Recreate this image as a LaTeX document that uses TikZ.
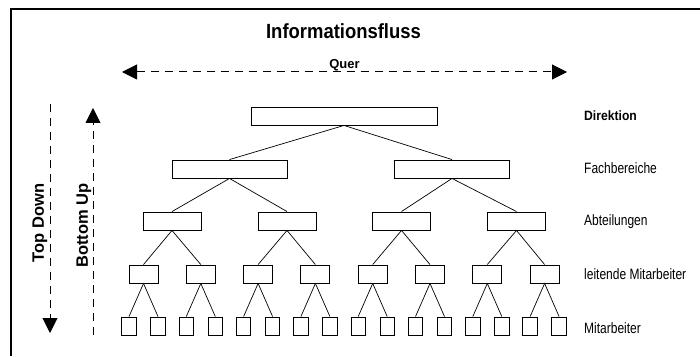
\documentclass[tikz,border=0pt]{standalone}
\usepackage{fontspec}
\setmainfont{Liberation Sans}
\newfontfamily\schmal{Liberation Sans}[FakeStretch=0.8]
\newfontfamily\schmalfett{Liberation Sans Bold}[FakeStretch=0.9]
\usetikzlibrary{arrows.meta}
\tikzset{
  orgbox/.style={draw, line width=0.9pt, inner sep=0pt, minimum height=18pt},
  kante/.style={line width=0.7pt},
  flow/.style={line width=1pt, dash pattern=on 8pt off 6pt},
  tip/.style={-{Triangle[length=15pt,width=15pt]}},
  ebene/.style={anchor=base west, inner sep=0pt, font=\schmal\fontsize{15}{17}\selectfont}
}
\begin{document}
\begin{tikzpicture}[x=1pt,y=1pt]
                        \useasboundingbox (0,0) rectangle (700,356);
                        \draw[line width=1.2pt] (11,0) -- (11,347) -- (700,347);
                        \node[anchor=base, font=\schmalfett\fontsize{20.5}{22}\selectfont] (titel) at (343.5,317) {Informationsfluss};

                        % Hierarchie
                        \node[orgbox, minimum width=186pt] (dir) at (344,240) {};
                        \node[orgbox, minimum width=115pt] (fb1) at (229.5,187) {};
                        \node[orgbox, minimum width=115pt] (fb2) at (452,187) {};
                        \foreach \i/\x in {1/172,2/287,3/401.5,4/516.5}
                            \node[orgbox, minimum width=58pt] (ab\i) at (\x,135) {};
                        \foreach \i in {1,...,8} {
                            \node[orgbox, minimum width=29pt] (le\i) at ({143.5+57.3*(\i-1)},82) {};
                            \node[orgbox, minimum width=14.5pt] (maA\i) at ({129+57.3*(\i-1)},30) {};
                            \node[orgbox, minimum width=14.5pt] (maB\i) at ({158+57.3*(\i-1)},30) {};
                        }
                        \draw[kante] (dir.south) -- (fb1.north);
                        \draw[kante] (dir.south) -- (fb2.north);
                        \foreach \a/\b in {fb1/ab1,fb1/ab2,fb2/ab3,fb2/ab4}
                            \draw[kante] (\a.south) -- (\b.north);
                        \foreach \i in {1,...,8} {
                            \pgfmathtruncatemacro\p{(\i+1)/2}
                            \draw[kante] (ab\p.south) -- (le\i.north);
                            \draw[kante] (le\i.south) -- (maA\i.north);
                            \draw[kante] (le\i.south) -- (maB\i.north);
                        }

                        % Richtungen
                        \coordinate (querL) at (122,284);
                        \coordinate (querR) at (567,284);
                        \draw[flow, {Triangle[length=15pt,width=15pt]}-{Triangle[length=15pt,width=15pt]}] (querL) -- (querR);
                        \node[anchor=base, font=\fontsize{13}{15}\selectfont\bfseries] (quer) at (344.5,287.5) {Quer};

                        \coordinate (tdO) at (50,252);
                        \coordinate (tdU) at (50,23);
                        \draw[flow, tip] (tdO) -- (tdU);
                        \node[rotate=90, font=\fontsize{16.5}{18}\selectfont\bfseries] (topdown) at (40,133) {Top Down};

                        \coordinate (buU) at (93,21);
                        \coordinate (buO) at (93,248);
                        \draw[flow, tip] (buU) -- (buO);
                        \node[rotate=90, font=\fontsize{16.5}{18}\selectfont\bfseries] (bottomup) at (84,130.5) {Bottom Up};

                        % Ebenen
                        \node[ebene, font=\schmalfett\fontsize{13.5}{15}\selectfont] (ldir) at (584,235) {Direktion};
                        \node[ebene] (lfb) at (584,182) {Fachbereiche};
                        \node[ebene] (lab) at (584,130) {Abteilungen};
                        \node[ebene] (lle) at (584,77) {leitende Mitarbeiter};
                        \node[ebene] (lma) at (584,23) {Mitarbeiter};
                    \end{tikzpicture}
\end{document}
